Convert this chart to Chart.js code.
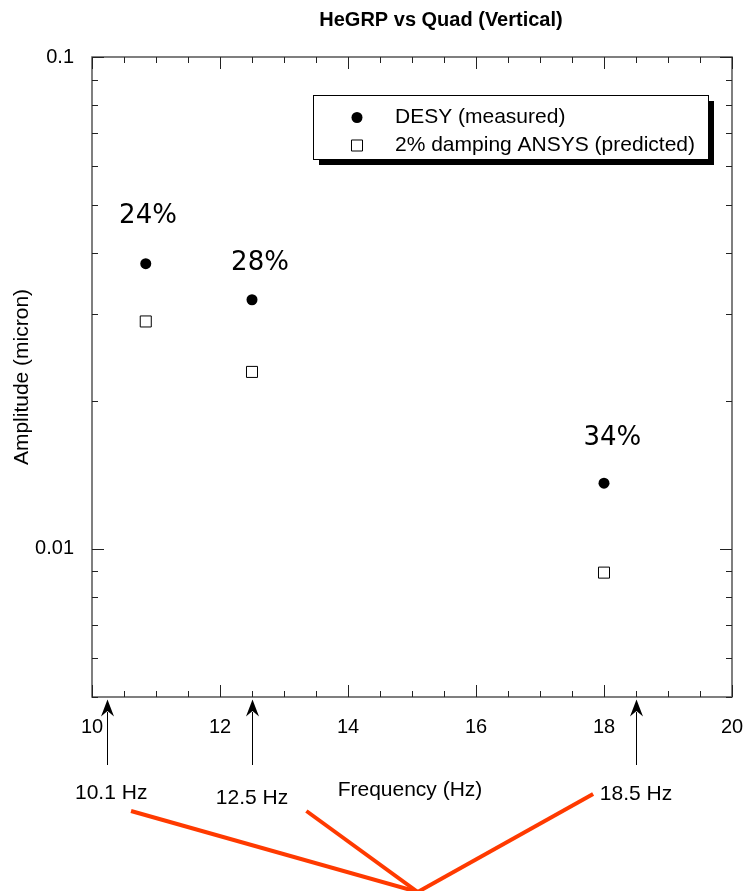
<!DOCTYPE html>
<html>
<head>
<meta charset="utf-8">
<script src="https://cdn.jsdelivr.net/npm/chart.js@4.4.0/dist/chart.umd.min.js"></script>
<style>
  html, body { margin: 0; padding: 0; background: #fff; }
  #wrap { width: 744px; height: 891px; }
</style>
</head>
<body>
<div id="wrap"><canvas id="hegrpChart" width="744" height="891"></canvas></div>
<script>
// --- DATA ---
const frequencies = [10.84, 12.5, 18.0];
const desyMeasured = [0.0380, 0.0321, 0.0136];
const ansysPredicted = [0.0290, 0.0229, 0.00895];

const percentLabels = ['24%', '28%', '34%'];
const percentLabelX = [10.875, 12.625, 18.13];
const percentLabelY = [0.0475, 0.0380, 0.01676];

const arrowFreqs = [10.23, 12.5, 18.5];
const arrowLabels = ['10.1 Hz', '12.5 Hz', '18.5 Hz'];
const arrowLabelX = [10.3, 12.5, 18.5];
const arrowLabelY = [793, 798, 794];

// red pointer lines: start freq / start y (px), all meet at one point
const pointerStartX = [10.61, 13.35, 17.83];
const pointerStartY = [811, 811, 794];
const pointerEnd = { x: 15.09, y: 892 };

const xTickValues = [10, 10.5, 11, 11.5, 12, 12.5, 13, 13.5, 14, 14.5, 15, 15.5, 16, 16.5, 17, 17.5, 18, 18.5, 19, 19.5, 20];
const xMajorTicks = [10, 12, 14, 16, 18, 20];
const yTickValues = [0.005, 0.006, 0.007, 0.008, 0.009, 0.01, 0.02, 0.03, 0.04, 0.05, 0.06, 0.07, 0.08, 0.09, 0.1];
const yMajorTicks = [0.01, 0.1];

const SANS = '"Liberation Sans", Arial, Helvetica, sans-serif';

// --- FRAME + INWARD TICKS ---
const framePlugin = {
  id: 'frame',
  beforeDatasetsDraw(chart) {
    const { ctx, chartArea: a, scales: { x, y } } = chart;
    ctx.save();
    ctx.strokeStyle = '#555';
    ctx.lineWidth = 1.5;
    ctx.strokeRect(a.left, a.top, a.right - a.left, a.bottom - a.top);
    ctx.strokeStyle = '#222';
    ctx.lineWidth = 1;
    ctx.beginPath();
    xTickValues.forEach(v => {
      const px = Math.round(x.getPixelForValue(v)) + 0.5;
      const len = xMajorTicks.includes(v) ? 12 : 6;
      ctx.moveTo(px, a.bottom); ctx.lineTo(px, a.bottom - len);
      ctx.moveTo(px, a.top); ctx.lineTo(px, a.top + len);
    });
    yTickValues.forEach(v => {
      const py = Math.round(y.getPixelForValue(v)) + 0.5;
      const len = yMajorTicks.includes(v) ? 12 : 6;
      ctx.moveTo(a.left, py); ctx.lineTo(a.left + len, py);
      ctx.moveTo(a.right, py); ctx.lineTo(a.right - len, py);
    });
    ctx.stroke();
    ctx.restore();
  }
};

// --- TEXT, LEGEND, ARROWS ---
const annotationPlugin = {
  id: 'annotations',
  afterDraw(chart) {
    const { ctx, scales: { x, y } } = chart;
    ctx.save();

    // title
    ctx.fillStyle = '#000';
    ctx.textAlign = 'center';
    ctx.textBaseline = 'middle';
    ctx.font = 'bold 20px ' + SANS;
    ctx.fillText('HeGRP vs Quad (Vertical)', 441, 20);

    // axis titles
    ctx.font = '21px ' + SANS;
    ctx.fillText('Frequency (Hz)', 410, 790);
    ctx.save();
    ctx.translate(22, 377);
    ctx.rotate(-Math.PI / 2);
    ctx.fillText('Amplitude (micron)', 0, 0);
    ctx.restore();

    // percent labels
    ctx.font = '26px "DejaVu Sans", sans-serif';
    percentLabels.forEach((t, i) => {
      ctx.fillText(t, x.getPixelForValue(percentLabelX[i]), y.getPixelForValue(percentLabelY[i]));
    });

    // legend box with drop shadow
    const box = { left: 313, top: 95, w: 395, h: 64 };
    ctx.fillStyle = '#000';
    ctx.fillRect(box.left + 6, box.top + 6, box.w, box.h);
    ctx.fillStyle = '#fff';
    ctx.fillRect(box.left, box.top, box.w, box.h);
    ctx.strokeStyle = '#000';
    ctx.lineWidth = 1;
    ctx.strokeRect(box.left + 0.5, box.top + 0.5, box.w, box.h);
    const rows = [117.5, 145.5];
    chart.data.datasets.forEach((ds, i) => {
      ctx.fillStyle = ds.backgroundColor;
      ctx.strokeStyle = ds.borderColor;
      ctx.lineWidth = ds.borderWidth;
      Chart.helpers.drawPoint(ctx, { pointStyle: ds.pointStyle, radius: ds.pointRadius, borderWidth: ds.borderWidth, rotation: 0 }, 357, rows[i]);
      ctx.fillStyle = '#000';
      ctx.textAlign = 'left';
      ctx.font = '21px ' + SANS;
      ctx.fillText(ds.label, 395, rows[i]);
    });

    // arrows up to the frequency axis
    ctx.fillStyle = '#000';
    ctx.strokeStyle = '#000';
    ctx.lineWidth = 1;
    arrowFreqs.forEach(f => {
      const px = Math.round(x.getPixelForValue(f)) + 0.5;
      ctx.beginPath();
      ctx.moveTo(px, 765);
      ctx.lineTo(px, 712);
      ctx.stroke();
      ctx.beginPath();
      ctx.moveTo(px, 699.5);
      ctx.lineTo(px - 6.5, 716.5);
      ctx.lineTo(px, 711);
      ctx.lineTo(px + 6.5, 716.5);
      ctx.closePath();
      ctx.fill();
    });
    ctx.textAlign = 'center';
    ctx.font = '21px ' + SANS;
    arrowLabels.forEach((t, i) => {
      ctx.fillText(t, x.getPixelForValue(arrowLabelX[i]), arrowLabelY[i]);
    });

    // red pointer lines
    ctx.strokeStyle = '#ff3a00';
    ctx.lineWidth = 4;
    ctx.lineCap = 'butt';
    const ex = x.getPixelForValue(pointerEnd.x);
    pointerStartX.forEach((f, i) => {
      ctx.beginPath();
      ctx.moveTo(x.getPixelForValue(f), pointerStartY[i]);
      ctx.lineTo(ex, pointerEnd.y);
      ctx.stroke();
    });

    ctx.restore();
  }
};

// --- CHART ---
const ctx = document.getElementById('hegrpChart').getContext('2d');
new Chart(ctx, {
  type: 'scatter',
  data: {
    datasets: [
      {
        label: 'DESY (measured)',
        data: frequencies.map((f, i) => ({ x: f, y: desyMeasured[i] })),
        pointStyle: 'circle',
        pointRadius: 5.5,
        backgroundColor: '#000',
        borderColor: '#000',
        borderWidth: 0
      },
      {
        label: '2% damping ANSYS (predicted)',
        data: frequencies.map((f, i) => ({ x: f, y: ansysPredicted[i] })),
        pointStyle: 'rect',
        pointRadius: 7.8,
        backgroundColor: '#fff',
        borderColor: '#000',
        borderWidth: 1
      }
    ]
  },
  options: {
    responsive: false,
    animation: false,
    devicePixelRatio: 1,
    layout: { padding: { left: 0, right: 12, top: 57, bottom: 0 } },
    plugins: {
      legend: { display: false },
      title: { display: false },
      tooltip: { enabled: false }
    },
    scales: {
      x: {
        type: 'linear',
        min: 10, max: 20,
        afterBuildTicks: s => { s.ticks = xTickValues.map(v => ({ value: v })); },
        afterFit: s => { s.height = 194; s.paddingLeft = 0; s.paddingRight = 0; },
        grid: { display: false, drawTicks: false },
        border: { display: false },
        ticks: {
          padding: 18, autoSkip: false, maxRotation: 0, color: '#000',
          font: { family: SANS, size: 20 },
          callback: v => xMajorTicks.includes(v) ? String(v) : ''
        }
      },
      y: {
        type: 'logarithmic',
        min: 0.005, max: 0.1,
        afterBuildTicks: s => { s.ticks = yTickValues.map(v => ({ value: v })); },
        afterFit: s => { s.width = 92; s.paddingTop = 0; s.paddingBottom = 0; },
        grid: { display: false, drawTicks: false },
        border: { display: false },
        ticks: {
          padding: 18, autoSkip: false, color: '#000',
          font: { family: SANS, size: 20 },
          callback: v => yMajorTicks.includes(v) ? String(v) : ''
        }
      }
    }
  },
  plugins: [framePlugin, annotationPlugin]
});
</script>
</body>
</html>
